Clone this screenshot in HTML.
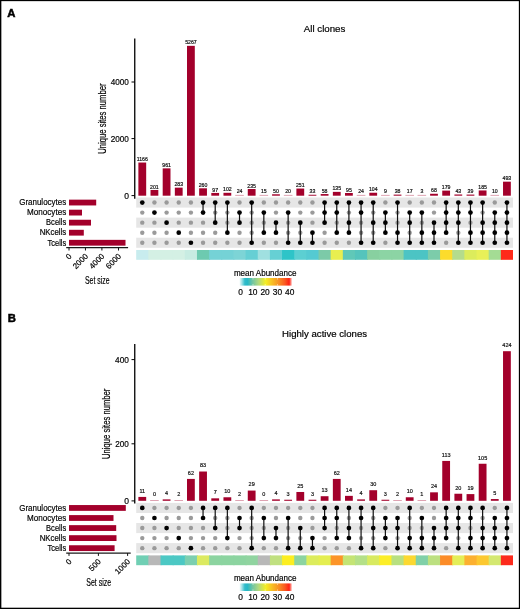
<!DOCTYPE html><html><head><meta charset="utf-8"><style>html,body{margin:0;padding:0;background:#fff;}svg{display:block;will-change:transform;}text{stroke:#000;stroke-width:0.18px;}</style></head><body>
<svg width="520" height="609" viewBox="0 0 520 609" font-family='"Liberation Sans", sans-serif'>
<defs><linearGradient id="grad" x1="0" x2="1" y1="0" y2="0"><stop offset="0" stop-color="#eefafa"/><stop offset="0.04" stop-color="#a8e4e8"/><stop offset="0.10" stop-color="#30bcca"/><stop offset="0.15" stop-color="#26b8c6"/><stop offset="0.24" stop-color="#6cc4a4"/><stop offset="0.36" stop-color="#b0d880"/><stop offset="0.5" stop-color="#f4ee24"/><stop offset="0.62" stop-color="#f8c024"/><stop offset="0.75" stop-color="#f89024"/><stop offset="0.87" stop-color="#fa5820"/><stop offset="0.95" stop-color="#ff2014"/><stop offset="1" stop-color="#ffc0b8"/></linearGradient></defs>
<rect x="0" y="0" width="520" height="609" fill="#fff"/>
<text x="7.20" y="16.60" font-size="11.3" text-anchor="start" fill="#000" font-weight="bold" style="stroke-width:0.5px">A</text>
<text x="324.60" y="31.90" font-size="9" text-anchor="middle" fill="#000" textLength="41.60" lengthAdjust="spacingAndGlyphs" >All clones</text>
<line x1="134.75" y1="38.40" x2="134.75" y2="198.80" stroke="#000" stroke-width="1.3"/>
<line x1="131.5" y1="195.60" x2="134.75" y2="195.60" stroke="#000" stroke-width="1.0"/>
<text x="128.90" y="198.55" font-size="8.5" text-anchor="end" fill="#000" >0</text>
<line x1="131.5" y1="138.60" x2="134.75" y2="138.60" stroke="#000" stroke-width="1.0"/>
<text x="128.90" y="141.55" font-size="8.5" text-anchor="end" fill="#000" textLength="18.20" lengthAdjust="spacingAndGlyphs" >2000</text>
<line x1="131.5" y1="82.00" x2="134.75" y2="82.00" stroke="#000" stroke-width="1.0"/>
<text x="128.90" y="84.95" font-size="8.5" text-anchor="end" fill="#000" textLength="18.20" lengthAdjust="spacingAndGlyphs" >4000</text>
<text x="0" y="0" font-size="10.3" text-anchor="middle" fill="#000" textLength="70.4" lengthAdjust="spacingAndGlyphs" transform="translate(105.80,118.60) rotate(-90)">Unique sites number</text>
<rect x="138.38" y="162.53" width="7.8" height="33.17" fill="#a3002b"/>
<text x="142.28" y="161.09" font-size="5.2" text-anchor="middle" fill="#222" >1166</text>
<rect x="150.53" y="189.98" width="7.8" height="5.72" fill="#a3002b"/>
<text x="154.43" y="188.54" font-size="5.2" text-anchor="middle" fill="#222" >201</text>
<rect x="162.69" y="168.36" width="7.8" height="27.34" fill="#a3002b"/>
<text x="166.59" y="166.92" font-size="5.2" text-anchor="middle" fill="#222" >961</text>
<rect x="174.84" y="187.65" width="7.8" height="8.05" fill="#a3002b"/>
<text x="178.74" y="186.21" font-size="5.2" text-anchor="middle" fill="#222" >283</text>
<rect x="187.00" y="45.85" width="7.8" height="149.85" fill="#a3002b"/>
<text x="190.90" y="44.42" font-size="5.2" text-anchor="middle" fill="#222" >5267</text>
<rect x="199.15" y="188.30" width="7.8" height="7.40" fill="#a3002b"/>
<text x="203.05" y="186.86" font-size="5.2" text-anchor="middle" fill="#222" >260</text>
<rect x="211.31" y="192.94" width="7.8" height="2.76" fill="#a3002b"/>
<text x="215.21" y="191.50" font-size="5.2" text-anchor="middle" fill="#222" >97</text>
<rect x="223.46" y="192.80" width="7.8" height="2.90" fill="#a3002b"/>
<text x="227.36" y="191.36" font-size="5.2" text-anchor="middle" fill="#222" >102</text>
<rect x="235.22" y="194.90" width="8.6" height="0.8" fill="#a3002b" opacity="0.45"/>
<text x="239.52" y="193.46" font-size="5.2" text-anchor="middle" fill="#222" >24</text>
<rect x="247.77" y="189.01" width="7.8" height="6.69" fill="#a3002b"/>
<text x="251.67" y="187.58" font-size="5.2" text-anchor="middle" fill="#222" >235</text>
<rect x="259.53" y="194.90" width="8.6" height="0.8" fill="#a3002b" opacity="0.45"/>
<text x="263.83" y="193.46" font-size="5.2" text-anchor="middle" fill="#222" >15</text>
<rect x="272.08" y="194.28" width="7.8" height="1.42" fill="#a3002b"/>
<text x="275.98" y="192.84" font-size="5.2" text-anchor="middle" fill="#222" >50</text>
<rect x="283.84" y="194.90" width="8.6" height="0.8" fill="#a3002b" opacity="0.45"/>
<text x="288.14" y="193.46" font-size="5.2" text-anchor="middle" fill="#222" >20</text>
<rect x="296.39" y="188.56" width="7.8" height="7.14" fill="#a3002b"/>
<text x="300.29" y="187.12" font-size="5.2" text-anchor="middle" fill="#222" >251</text>
<rect x="308.55" y="194.76" width="7.8" height="0.94" fill="#a3002b"/>
<text x="312.45" y="193.32" font-size="5.2" text-anchor="middle" fill="#222" >33</text>
<rect x="320.70" y="194.05" width="7.8" height="1.65" fill="#a3002b"/>
<text x="324.60" y="192.61" font-size="5.2" text-anchor="middle" fill="#222" >58</text>
<rect x="332.86" y="191.86" width="7.8" height="3.84" fill="#a3002b"/>
<text x="336.76" y="190.42" font-size="5.2" text-anchor="middle" fill="#222" >135</text>
<rect x="345.01" y="193.00" width="7.8" height="2.70" fill="#a3002b"/>
<text x="348.91" y="191.56" font-size="5.2" text-anchor="middle" fill="#222" >95</text>
<rect x="356.77" y="194.90" width="8.6" height="0.8" fill="#a3002b" opacity="0.45"/>
<text x="361.07" y="193.46" font-size="5.2" text-anchor="middle" fill="#222" >24</text>
<rect x="369.32" y="192.74" width="7.8" height="2.96" fill="#a3002b"/>
<text x="373.22" y="191.30" font-size="5.2" text-anchor="middle" fill="#222" >104</text>
<rect x="381.08" y="194.90" width="8.6" height="0.8" fill="#a3002b" opacity="0.45"/>
<text x="385.38" y="193.46" font-size="5.2" text-anchor="middle" fill="#222" >9</text>
<rect x="393.63" y="194.62" width="7.8" height="1.08" fill="#a3002b"/>
<text x="397.53" y="193.18" font-size="5.2" text-anchor="middle" fill="#222" >38</text>
<rect x="405.39" y="194.90" width="8.6" height="0.8" fill="#a3002b" opacity="0.45"/>
<text x="409.69" y="193.46" font-size="5.2" text-anchor="middle" fill="#222" >17</text>
<rect x="417.54" y="194.90" width="8.6" height="0.8" fill="#a3002b" opacity="0.45"/>
<text x="421.84" y="193.46" font-size="5.2" text-anchor="middle" fill="#222" >3</text>
<rect x="430.10" y="193.77" width="7.8" height="1.93" fill="#a3002b"/>
<text x="434.00" y="192.33" font-size="5.2" text-anchor="middle" fill="#222" >68</text>
<rect x="442.25" y="190.61" width="7.8" height="5.09" fill="#a3002b"/>
<text x="446.15" y="189.17" font-size="5.2" text-anchor="middle" fill="#222" >179</text>
<rect x="454.41" y="194.48" width="7.8" height="1.22" fill="#a3002b"/>
<text x="458.31" y="193.04" font-size="5.2" text-anchor="middle" fill="#222" >43</text>
<rect x="466.56" y="194.59" width="7.8" height="1.11" fill="#a3002b"/>
<text x="470.46" y="193.15" font-size="5.2" text-anchor="middle" fill="#222" >39</text>
<rect x="478.72" y="190.44" width="7.8" height="5.26" fill="#a3002b"/>
<text x="482.62" y="189.00" font-size="5.2" text-anchor="middle" fill="#222" >185</text>
<rect x="490.47" y="194.90" width="8.6" height="0.8" fill="#a3002b" opacity="0.45"/>
<text x="494.77" y="193.46" font-size="5.2" text-anchor="middle" fill="#222" >10</text>
<rect x="503.03" y="181.67" width="7.8" height="14.03" fill="#a3002b"/>
<text x="506.93" y="180.24" font-size="5.2" text-anchor="middle" fill="#222" >493</text>
<rect x="136.20" y="197.50" width="376.81" height="10.1" fill="#e6e6e6"/>
<rect x="136.20" y="217.60" width="376.81" height="10.1" fill="#e6e6e6"/>
<rect x="136.20" y="237.70" width="376.81" height="10.1" fill="#e6e6e6"/>
<circle cx="142.28" cy="212.60" r="2.2" fill="#9a9a9a"/>
<circle cx="142.28" cy="222.65" r="2.2" fill="#9a9a9a"/>
<circle cx="142.28" cy="232.70" r="2.2" fill="#9a9a9a"/>
<circle cx="142.28" cy="242.75" r="2.2" fill="#9a9a9a"/>
<circle cx="142.28" cy="202.55" r="2.35" fill="#000"/>
<circle cx="154.43" cy="202.55" r="2.2" fill="#9a9a9a"/>
<circle cx="154.43" cy="222.65" r="2.2" fill="#9a9a9a"/>
<circle cx="154.43" cy="232.70" r="2.2" fill="#9a9a9a"/>
<circle cx="154.43" cy="242.75" r="2.2" fill="#9a9a9a"/>
<circle cx="154.43" cy="212.60" r="2.35" fill="#000"/>
<circle cx="166.59" cy="202.55" r="2.2" fill="#9a9a9a"/>
<circle cx="166.59" cy="212.60" r="2.2" fill="#9a9a9a"/>
<circle cx="166.59" cy="232.70" r="2.2" fill="#9a9a9a"/>
<circle cx="166.59" cy="242.75" r="2.2" fill="#9a9a9a"/>
<circle cx="166.59" cy="222.65" r="2.35" fill="#000"/>
<circle cx="178.74" cy="202.55" r="2.2" fill="#9a9a9a"/>
<circle cx="178.74" cy="212.60" r="2.2" fill="#9a9a9a"/>
<circle cx="178.74" cy="222.65" r="2.2" fill="#9a9a9a"/>
<circle cx="178.74" cy="242.75" r="2.2" fill="#9a9a9a"/>
<circle cx="178.74" cy="232.70" r="2.35" fill="#000"/>
<circle cx="190.90" cy="202.55" r="2.2" fill="#9a9a9a"/>
<circle cx="190.90" cy="212.60" r="2.2" fill="#9a9a9a"/>
<circle cx="190.90" cy="222.65" r="2.2" fill="#9a9a9a"/>
<circle cx="190.90" cy="232.70" r="2.2" fill="#9a9a9a"/>
<circle cx="190.90" cy="242.75" r="2.35" fill="#000"/>
<circle cx="203.05" cy="222.65" r="2.2" fill="#9a9a9a"/>
<circle cx="203.05" cy="232.70" r="2.2" fill="#9a9a9a"/>
<circle cx="203.05" cy="242.75" r="2.2" fill="#9a9a9a"/>
<line x1="203.05" y1="202.55" x2="203.05" y2="212.60" stroke="#111" stroke-width="1.2"/>
<circle cx="203.05" cy="202.55" r="2.35" fill="#000"/>
<circle cx="203.05" cy="212.60" r="2.35" fill="#000"/>
<circle cx="215.21" cy="212.60" r="2.2" fill="#9a9a9a"/>
<circle cx="215.21" cy="232.70" r="2.2" fill="#9a9a9a"/>
<circle cx="215.21" cy="242.75" r="2.2" fill="#9a9a9a"/>
<line x1="215.21" y1="202.55" x2="215.21" y2="222.65" stroke="#111" stroke-width="1.2"/>
<circle cx="215.21" cy="202.55" r="2.35" fill="#000"/>
<circle cx="215.21" cy="222.65" r="2.35" fill="#000"/>
<circle cx="227.36" cy="212.60" r="2.2" fill="#9a9a9a"/>
<circle cx="227.36" cy="222.65" r="2.2" fill="#9a9a9a"/>
<circle cx="227.36" cy="242.75" r="2.2" fill="#9a9a9a"/>
<line x1="227.36" y1="202.55" x2="227.36" y2="232.70" stroke="#111" stroke-width="1.2"/>
<circle cx="227.36" cy="202.55" r="2.35" fill="#000"/>
<circle cx="227.36" cy="232.70" r="2.35" fill="#000"/>
<circle cx="239.52" cy="202.55" r="2.2" fill="#9a9a9a"/>
<circle cx="239.52" cy="232.70" r="2.2" fill="#9a9a9a"/>
<circle cx="239.52" cy="242.75" r="2.2" fill="#9a9a9a"/>
<line x1="239.52" y1="212.60" x2="239.52" y2="222.65" stroke="#111" stroke-width="1.2"/>
<circle cx="239.52" cy="212.60" r="2.35" fill="#000"/>
<circle cx="239.52" cy="222.65" r="2.35" fill="#000"/>
<circle cx="251.67" cy="212.60" r="2.2" fill="#9a9a9a"/>
<circle cx="251.67" cy="222.65" r="2.2" fill="#9a9a9a"/>
<circle cx="251.67" cy="232.70" r="2.2" fill="#9a9a9a"/>
<line x1="251.67" y1="202.55" x2="251.67" y2="242.75" stroke="#111" stroke-width="1.2"/>
<circle cx="251.67" cy="202.55" r="2.35" fill="#000"/>
<circle cx="251.67" cy="242.75" r="2.35" fill="#000"/>
<circle cx="263.83" cy="202.55" r="2.2" fill="#9a9a9a"/>
<circle cx="263.83" cy="222.65" r="2.2" fill="#9a9a9a"/>
<circle cx="263.83" cy="242.75" r="2.2" fill="#9a9a9a"/>
<line x1="263.83" y1="212.60" x2="263.83" y2="232.70" stroke="#111" stroke-width="1.2"/>
<circle cx="263.83" cy="212.60" r="2.35" fill="#000"/>
<circle cx="263.83" cy="232.70" r="2.35" fill="#000"/>
<circle cx="275.98" cy="202.55" r="2.2" fill="#9a9a9a"/>
<circle cx="275.98" cy="212.60" r="2.2" fill="#9a9a9a"/>
<circle cx="275.98" cy="242.75" r="2.2" fill="#9a9a9a"/>
<line x1="275.98" y1="222.65" x2="275.98" y2="232.70" stroke="#111" stroke-width="1.2"/>
<circle cx="275.98" cy="222.65" r="2.35" fill="#000"/>
<circle cx="275.98" cy="232.70" r="2.35" fill="#000"/>
<circle cx="288.14" cy="202.55" r="2.2" fill="#9a9a9a"/>
<circle cx="288.14" cy="222.65" r="2.2" fill="#9a9a9a"/>
<circle cx="288.14" cy="232.70" r="2.2" fill="#9a9a9a"/>
<line x1="288.14" y1="212.60" x2="288.14" y2="242.75" stroke="#111" stroke-width="1.2"/>
<circle cx="288.14" cy="212.60" r="2.35" fill="#000"/>
<circle cx="288.14" cy="242.75" r="2.35" fill="#000"/>
<circle cx="300.29" cy="202.55" r="2.2" fill="#9a9a9a"/>
<circle cx="300.29" cy="212.60" r="2.2" fill="#9a9a9a"/>
<circle cx="300.29" cy="232.70" r="2.2" fill="#9a9a9a"/>
<line x1="300.29" y1="222.65" x2="300.29" y2="242.75" stroke="#111" stroke-width="1.2"/>
<circle cx="300.29" cy="222.65" r="2.35" fill="#000"/>
<circle cx="300.29" cy="242.75" r="2.35" fill="#000"/>
<circle cx="312.45" cy="202.55" r="2.2" fill="#9a9a9a"/>
<circle cx="312.45" cy="212.60" r="2.2" fill="#9a9a9a"/>
<circle cx="312.45" cy="222.65" r="2.2" fill="#9a9a9a"/>
<line x1="312.45" y1="232.70" x2="312.45" y2="242.75" stroke="#111" stroke-width="1.2"/>
<circle cx="312.45" cy="232.70" r="2.35" fill="#000"/>
<circle cx="312.45" cy="242.75" r="2.35" fill="#000"/>
<circle cx="324.60" cy="232.70" r="2.2" fill="#9a9a9a"/>
<circle cx="324.60" cy="242.75" r="2.2" fill="#9a9a9a"/>
<line x1="324.60" y1="202.55" x2="324.60" y2="222.65" stroke="#111" stroke-width="1.2"/>
<circle cx="324.60" cy="202.55" r="2.35" fill="#000"/>
<circle cx="324.60" cy="212.60" r="2.35" fill="#000"/>
<circle cx="324.60" cy="222.65" r="2.35" fill="#000"/>
<circle cx="336.76" cy="222.65" r="2.2" fill="#9a9a9a"/>
<circle cx="336.76" cy="242.75" r="2.2" fill="#9a9a9a"/>
<line x1="336.76" y1="202.55" x2="336.76" y2="232.70" stroke="#111" stroke-width="1.2"/>
<circle cx="336.76" cy="202.55" r="2.35" fill="#000"/>
<circle cx="336.76" cy="212.60" r="2.35" fill="#000"/>
<circle cx="336.76" cy="232.70" r="2.35" fill="#000"/>
<circle cx="348.91" cy="212.60" r="2.2" fill="#9a9a9a"/>
<circle cx="348.91" cy="242.75" r="2.2" fill="#9a9a9a"/>
<line x1="348.91" y1="202.55" x2="348.91" y2="232.70" stroke="#111" stroke-width="1.2"/>
<circle cx="348.91" cy="202.55" r="2.35" fill="#000"/>
<circle cx="348.91" cy="222.65" r="2.35" fill="#000"/>
<circle cx="348.91" cy="232.70" r="2.35" fill="#000"/>
<circle cx="361.07" cy="222.65" r="2.2" fill="#9a9a9a"/>
<circle cx="361.07" cy="232.70" r="2.2" fill="#9a9a9a"/>
<line x1="361.07" y1="202.55" x2="361.07" y2="242.75" stroke="#111" stroke-width="1.2"/>
<circle cx="361.07" cy="202.55" r="2.35" fill="#000"/>
<circle cx="361.07" cy="212.60" r="2.35" fill="#000"/>
<circle cx="361.07" cy="242.75" r="2.35" fill="#000"/>
<circle cx="373.22" cy="212.60" r="2.2" fill="#9a9a9a"/>
<circle cx="373.22" cy="232.70" r="2.2" fill="#9a9a9a"/>
<line x1="373.22" y1="202.55" x2="373.22" y2="242.75" stroke="#111" stroke-width="1.2"/>
<circle cx="373.22" cy="202.55" r="2.35" fill="#000"/>
<circle cx="373.22" cy="222.65" r="2.35" fill="#000"/>
<circle cx="373.22" cy="242.75" r="2.35" fill="#000"/>
<circle cx="385.38" cy="202.55" r="2.2" fill="#9a9a9a"/>
<circle cx="385.38" cy="242.75" r="2.2" fill="#9a9a9a"/>
<line x1="385.38" y1="212.60" x2="385.38" y2="232.70" stroke="#111" stroke-width="1.2"/>
<circle cx="385.38" cy="212.60" r="2.35" fill="#000"/>
<circle cx="385.38" cy="222.65" r="2.35" fill="#000"/>
<circle cx="385.38" cy="232.70" r="2.35" fill="#000"/>
<circle cx="397.53" cy="212.60" r="2.2" fill="#9a9a9a"/>
<circle cx="397.53" cy="222.65" r="2.2" fill="#9a9a9a"/>
<line x1="397.53" y1="202.55" x2="397.53" y2="242.75" stroke="#111" stroke-width="1.2"/>
<circle cx="397.53" cy="202.55" r="2.35" fill="#000"/>
<circle cx="397.53" cy="232.70" r="2.35" fill="#000"/>
<circle cx="397.53" cy="242.75" r="2.35" fill="#000"/>
<circle cx="409.69" cy="202.55" r="2.2" fill="#9a9a9a"/>
<circle cx="409.69" cy="232.70" r="2.2" fill="#9a9a9a"/>
<line x1="409.69" y1="212.60" x2="409.69" y2="242.75" stroke="#111" stroke-width="1.2"/>
<circle cx="409.69" cy="212.60" r="2.35" fill="#000"/>
<circle cx="409.69" cy="222.65" r="2.35" fill="#000"/>
<circle cx="409.69" cy="242.75" r="2.35" fill="#000"/>
<circle cx="421.84" cy="202.55" r="2.2" fill="#9a9a9a"/>
<circle cx="421.84" cy="222.65" r="2.2" fill="#9a9a9a"/>
<line x1="421.84" y1="212.60" x2="421.84" y2="242.75" stroke="#111" stroke-width="1.2"/>
<circle cx="421.84" cy="212.60" r="2.35" fill="#000"/>
<circle cx="421.84" cy="232.70" r="2.35" fill="#000"/>
<circle cx="421.84" cy="242.75" r="2.35" fill="#000"/>
<circle cx="434.00" cy="202.55" r="2.2" fill="#9a9a9a"/>
<circle cx="434.00" cy="212.60" r="2.2" fill="#9a9a9a"/>
<line x1="434.00" y1="222.65" x2="434.00" y2="242.75" stroke="#111" stroke-width="1.2"/>
<circle cx="434.00" cy="222.65" r="2.35" fill="#000"/>
<circle cx="434.00" cy="232.70" r="2.35" fill="#000"/>
<circle cx="434.00" cy="242.75" r="2.35" fill="#000"/>
<circle cx="446.15" cy="242.75" r="2.2" fill="#9a9a9a"/>
<line x1="446.15" y1="202.55" x2="446.15" y2="232.70" stroke="#111" stroke-width="1.2"/>
<circle cx="446.15" cy="202.55" r="2.35" fill="#000"/>
<circle cx="446.15" cy="212.60" r="2.35" fill="#000"/>
<circle cx="446.15" cy="222.65" r="2.35" fill="#000"/>
<circle cx="446.15" cy="232.70" r="2.35" fill="#000"/>
<circle cx="458.31" cy="232.70" r="2.2" fill="#9a9a9a"/>
<line x1="458.31" y1="202.55" x2="458.31" y2="242.75" stroke="#111" stroke-width="1.2"/>
<circle cx="458.31" cy="202.55" r="2.35" fill="#000"/>
<circle cx="458.31" cy="212.60" r="2.35" fill="#000"/>
<circle cx="458.31" cy="222.65" r="2.35" fill="#000"/>
<circle cx="458.31" cy="242.75" r="2.35" fill="#000"/>
<circle cx="470.46" cy="222.65" r="2.2" fill="#9a9a9a"/>
<line x1="470.46" y1="202.55" x2="470.46" y2="242.75" stroke="#111" stroke-width="1.2"/>
<circle cx="470.46" cy="202.55" r="2.35" fill="#000"/>
<circle cx="470.46" cy="212.60" r="2.35" fill="#000"/>
<circle cx="470.46" cy="232.70" r="2.35" fill="#000"/>
<circle cx="470.46" cy="242.75" r="2.35" fill="#000"/>
<circle cx="482.62" cy="212.60" r="2.2" fill="#9a9a9a"/>
<line x1="482.62" y1="202.55" x2="482.62" y2="242.75" stroke="#111" stroke-width="1.2"/>
<circle cx="482.62" cy="202.55" r="2.35" fill="#000"/>
<circle cx="482.62" cy="222.65" r="2.35" fill="#000"/>
<circle cx="482.62" cy="232.70" r="2.35" fill="#000"/>
<circle cx="482.62" cy="242.75" r="2.35" fill="#000"/>
<circle cx="494.77" cy="202.55" r="2.2" fill="#9a9a9a"/>
<line x1="494.77" y1="212.60" x2="494.77" y2="242.75" stroke="#111" stroke-width="1.2"/>
<circle cx="494.77" cy="212.60" r="2.35" fill="#000"/>
<circle cx="494.77" cy="222.65" r="2.35" fill="#000"/>
<circle cx="494.77" cy="232.70" r="2.35" fill="#000"/>
<circle cx="494.77" cy="242.75" r="2.35" fill="#000"/>
<line x1="506.93" y1="202.55" x2="506.93" y2="242.75" stroke="#111" stroke-width="1.2"/>
<circle cx="506.93" cy="202.55" r="2.35" fill="#000"/>
<circle cx="506.93" cy="212.60" r="2.35" fill="#000"/>
<circle cx="506.93" cy="222.65" r="2.35" fill="#000"/>
<circle cx="506.93" cy="232.70" r="2.35" fill="#000"/>
<circle cx="506.93" cy="242.75" r="2.35" fill="#000"/>
<rect x="136.20" y="250.00" width="13.15" height="9.8" fill="#c8ecee"/>
<rect x="148.35" y="250.00" width="13.15" height="9.8" fill="#d4f0e4"/>
<rect x="160.51" y="250.00" width="13.15" height="9.8" fill="#d4f0e4"/>
<rect x="172.66" y="250.00" width="13.15" height="9.8" fill="#d4f0e4"/>
<rect x="184.82" y="250.00" width="13.15" height="9.8" fill="#c8ece2"/>
<rect x="196.97" y="250.00" width="13.15" height="9.8" fill="#6dcab0"/>
<rect x="209.13" y="250.00" width="13.15" height="9.8" fill="#75d2d6"/>
<rect x="221.28" y="250.00" width="13.15" height="9.8" fill="#75d2d6"/>
<rect x="233.44" y="250.00" width="13.15" height="9.8" fill="#7dd4d6"/>
<rect x="245.59" y="250.00" width="13.15" height="9.8" fill="#66cfd4"/>
<rect x="257.75" y="250.00" width="13.15" height="9.8" fill="#a0e0e0"/>
<rect x="269.90" y="250.00" width="13.15" height="9.8" fill="#66d0d4"/>
<rect x="282.06" y="250.00" width="13.15" height="9.8" fill="#2ec4c8"/>
<rect x="294.21" y="250.00" width="13.15" height="9.8" fill="#5ccfd2"/>
<rect x="306.37" y="250.00" width="13.15" height="9.8" fill="#55cad2"/>
<rect x="318.52" y="250.00" width="13.15" height="9.8" fill="#7ccaa8"/>
<rect x="330.68" y="250.00" width="13.15" height="9.8" fill="#e8ee50"/>
<rect x="342.83" y="250.00" width="13.15" height="9.8" fill="#60c8b8"/>
<rect x="354.99" y="250.00" width="13.15" height="9.8" fill="#55c4bc"/>
<rect x="367.14" y="250.00" width="13.15" height="9.8" fill="#88d0a0"/>
<rect x="379.30" y="250.00" width="13.15" height="9.8" fill="#8cd4a4"/>
<rect x="391.45" y="250.00" width="13.15" height="9.8" fill="#8cd4a4"/>
<rect x="403.61" y="250.00" width="13.15" height="9.8" fill="#4cc4c4"/>
<rect x="415.76" y="250.00" width="13.15" height="9.8" fill="#4cc4c4"/>
<rect x="427.92" y="250.00" width="13.15" height="9.8" fill="#7cccaa"/>
<rect x="440.07" y="250.00" width="13.15" height="9.8" fill="#fcdc2c"/>
<rect x="452.23" y="250.00" width="13.15" height="9.8" fill="#b4dc8c"/>
<rect x="464.38" y="250.00" width="13.15" height="9.8" fill="#dcec5c"/>
<rect x="476.54" y="250.00" width="13.15" height="9.8" fill="#e8f058"/>
<rect x="488.69" y="250.00" width="13.15" height="9.8" fill="#a4dc94"/>
<rect x="500.85" y="250.00" width="12.15" height="9.8" fill="#ff2a1a"/>
<text x="265.20" y="275.80" font-size="8.4" text-anchor="middle" fill="#000" textLength="62.60" lengthAdjust="spacingAndGlyphs" >mean Abundance</text>
<rect x="239.6" y="278.00" width="52.2" height="7.6" fill="url(#grad)"/>
<line x1="253.00" y1="278.00" x2="253.00" y2="279.60" stroke="#fff" stroke-width="0.6" opacity="0.8"/>
<line x1="253.00" y1="284.00" x2="253.00" y2="285.60" stroke="#fff" stroke-width="0.6" opacity="0.8"/>
<line x1="265.20" y1="278.00" x2="265.20" y2="279.60" stroke="#fff" stroke-width="0.6" opacity="0.8"/>
<line x1="265.20" y1="284.00" x2="265.20" y2="285.60" stroke="#fff" stroke-width="0.6" opacity="0.8"/>
<line x1="277.40" y1="278.00" x2="277.40" y2="279.60" stroke="#fff" stroke-width="0.6" opacity="0.8"/>
<line x1="277.40" y1="284.00" x2="277.40" y2="285.60" stroke="#fff" stroke-width="0.6" opacity="0.8"/>
<text x="240.50" y="295.00" font-size="8.4" text-anchor="middle" fill="#000" >0</text>
<text x="252.80" y="295.00" font-size="8.4" text-anchor="middle" fill="#000" >10</text>
<text x="265.10" y="295.00" font-size="8.4" text-anchor="middle" fill="#000" >20</text>
<text x="277.40" y="295.00" font-size="8.4" text-anchor="middle" fill="#000" >30</text>
<text x="289.70" y="295.00" font-size="8.4" text-anchor="middle" fill="#000" >40</text>
<text x="66.20" y="205.30" font-size="8.6" text-anchor="end" fill="#000" textLength="47.00" lengthAdjust="spacingAndGlyphs" >Granulocytes</text>
<rect x="69.0" y="199.65" width="27.20" height="5.8" fill="#a3002b"/>
<text x="66.20" y="215.35" font-size="8.6" text-anchor="end" fill="#000" textLength="39.10" lengthAdjust="spacingAndGlyphs" >Monocytes</text>
<rect x="69.0" y="209.70" width="13.00" height="5.8" fill="#a3002b"/>
<text x="66.20" y="225.40" font-size="8.6" text-anchor="end" fill="#000" textLength="20.10" lengthAdjust="spacingAndGlyphs" >Bcells</text>
<rect x="69.0" y="219.75" width="22.00" height="5.8" fill="#a3002b"/>
<text x="66.20" y="235.45" font-size="8.6" text-anchor="end" fill="#000" textLength="26.50" lengthAdjust="spacingAndGlyphs" >NKcells</text>
<rect x="69.0" y="229.80" width="14.80" height="5.8" fill="#a3002b"/>
<text x="66.20" y="245.50" font-size="8.6" text-anchor="end" fill="#000" textLength="18.70" lengthAdjust="spacingAndGlyphs" >Tcells</text>
<rect x="69.0" y="239.85" width="56.50" height="5.8" fill="#a3002b"/>
<line x1="66.2" y1="247.70" x2="128.10" y2="247.70" stroke="#1a1a1a" stroke-width="1.2"/>
<line x1="69.00" y1="247.70" x2="69.00" y2="250.50" stroke="#111" stroke-width="1.0"/>
<text x="0" y="0" font-size="8" text-anchor="end" fill="#000" transform="translate(72.10,256.80) rotate(-45)">0</text>
<line x1="85.45" y1="247.70" x2="85.45" y2="250.50" stroke="#111" stroke-width="1.0"/>
<text x="0" y="0" font-size="8" text-anchor="end" fill="#000" transform="translate(88.55,256.80) rotate(-45)">2000</text>
<line x1="101.90" y1="247.70" x2="101.90" y2="250.50" stroke="#111" stroke-width="1.0"/>
<text x="0" y="0" font-size="8" text-anchor="end" fill="#000" transform="translate(105.00,256.80) rotate(-45)">4000</text>
<line x1="118.50" y1="247.70" x2="118.50" y2="250.50" stroke="#111" stroke-width="1.0"/>
<text x="0" y="0" font-size="8" text-anchor="end" fill="#000" transform="translate(121.60,256.80) rotate(-45)">6000</text>
<text x="97.30" y="283.60" font-size="10.4" text-anchor="middle" fill="#000" textLength="24.60" lengthAdjust="spacingAndGlyphs">Set size</text>
<text x="7.80" y="322.00" font-size="11.3" text-anchor="start" fill="#000" font-weight="bold" style="stroke-width:0.5px">B</text>
<text x="324.60" y="337.30" font-size="9" text-anchor="middle" fill="#000" textLength="85.00" lengthAdjust="spacingAndGlyphs" >Highly active clones</text>
<line x1="134.75" y1="344.00" x2="134.75" y2="503.60" stroke="#000" stroke-width="1.3"/>
<line x1="131.5" y1="500.90" x2="134.75" y2="500.90" stroke="#000" stroke-width="1.0"/>
<text x="128.90" y="503.85" font-size="8.5" text-anchor="end" fill="#000" >0</text>
<line x1="131.5" y1="443.80" x2="134.75" y2="443.80" stroke="#000" stroke-width="1.0"/>
<text x="128.90" y="446.75" font-size="8.5" text-anchor="end" fill="#000" textLength="13.60" lengthAdjust="spacingAndGlyphs" >200</text>
<line x1="131.5" y1="359.60" x2="134.75" y2="359.60" stroke="#000" stroke-width="1.0"/>
<text x="128.90" y="362.55" font-size="8.5" text-anchor="end" fill="#000" textLength="13.90" lengthAdjust="spacingAndGlyphs" >400</text>
<text x="0" y="0" font-size="10.3" text-anchor="middle" fill="#000" textLength="70.4" lengthAdjust="spacingAndGlyphs" transform="translate(110.00,423.80) rotate(-90)">Unique sites number</text>
<rect x="138.38" y="496.92" width="7.8" height="3.88" fill="#a3002b"/>
<text x="142.28" y="492.79" font-size="5.5" text-anchor="middle" fill="#222" >11</text>
<rect x="150.13" y="500.00" width="8.6" height="0.8" fill="#a3002b" opacity="0.45"/>
<text x="154.43" y="495.87" font-size="5.5" text-anchor="middle" fill="#222" >0</text>
<rect x="162.69" y="499.39" width="7.8" height="1.41" fill="#a3002b"/>
<text x="166.59" y="495.26" font-size="5.5" text-anchor="middle" fill="#222" >4</text>
<rect x="174.44" y="500.00" width="8.6" height="0.8" fill="#a3002b" opacity="0.45"/>
<text x="178.74" y="495.87" font-size="5.5" text-anchor="middle" fill="#222" >2</text>
<rect x="187.00" y="478.92" width="7.8" height="21.88" fill="#a3002b"/>
<text x="190.90" y="474.79" font-size="5.5" text-anchor="middle" fill="#222" >62</text>
<rect x="199.15" y="471.52" width="7.8" height="29.28" fill="#a3002b"/>
<text x="203.05" y="467.38" font-size="5.5" text-anchor="middle" fill="#222" >83</text>
<rect x="211.31" y="498.33" width="7.8" height="2.47" fill="#a3002b"/>
<text x="215.21" y="494.20" font-size="5.5" text-anchor="middle" fill="#222" >7</text>
<rect x="223.46" y="497.27" width="7.8" height="3.53" fill="#a3002b"/>
<text x="227.36" y="493.14" font-size="5.5" text-anchor="middle" fill="#222" >10</text>
<rect x="235.22" y="500.00" width="8.6" height="0.8" fill="#a3002b" opacity="0.45"/>
<text x="239.52" y="495.87" font-size="5.5" text-anchor="middle" fill="#222" >2</text>
<rect x="247.77" y="490.57" width="7.8" height="10.23" fill="#a3002b"/>
<text x="251.67" y="486.44" font-size="5.5" text-anchor="middle" fill="#222" >29</text>
<rect x="259.53" y="500.00" width="8.6" height="0.8" fill="#a3002b" opacity="0.45"/>
<text x="263.83" y="495.87" font-size="5.5" text-anchor="middle" fill="#222" >0</text>
<rect x="272.08" y="499.39" width="7.8" height="1.41" fill="#a3002b"/>
<text x="275.98" y="495.26" font-size="5.5" text-anchor="middle" fill="#222" >4</text>
<rect x="284.24" y="499.74" width="7.8" height="1.06" fill="#a3002b"/>
<text x="288.14" y="495.61" font-size="5.5" text-anchor="middle" fill="#222" >3</text>
<rect x="296.39" y="491.98" width="7.8" height="8.82" fill="#a3002b"/>
<text x="300.29" y="487.85" font-size="5.5" text-anchor="middle" fill="#222" >25</text>
<rect x="308.55" y="499.74" width="7.8" height="1.06" fill="#a3002b"/>
<text x="312.45" y="495.61" font-size="5.5" text-anchor="middle" fill="#222" >3</text>
<rect x="320.70" y="496.21" width="7.8" height="4.59" fill="#a3002b"/>
<text x="324.60" y="492.08" font-size="5.5" text-anchor="middle" fill="#222" >13</text>
<rect x="332.86" y="478.92" width="7.8" height="21.88" fill="#a3002b"/>
<text x="336.76" y="474.79" font-size="5.5" text-anchor="middle" fill="#222" >62</text>
<rect x="345.01" y="495.86" width="7.8" height="4.94" fill="#a3002b"/>
<text x="348.91" y="491.73" font-size="5.5" text-anchor="middle" fill="#222" >14</text>
<rect x="357.17" y="499.39" width="7.8" height="1.41" fill="#a3002b"/>
<text x="361.07" y="495.26" font-size="5.5" text-anchor="middle" fill="#222" >4</text>
<rect x="369.32" y="490.22" width="7.8" height="10.58" fill="#a3002b"/>
<text x="373.22" y="486.08" font-size="5.5" text-anchor="middle" fill="#222" >30</text>
<rect x="381.48" y="499.74" width="7.8" height="1.06" fill="#a3002b"/>
<text x="385.38" y="495.61" font-size="5.5" text-anchor="middle" fill="#222" >3</text>
<rect x="393.23" y="500.00" width="8.6" height="0.8" fill="#a3002b" opacity="0.45"/>
<text x="397.53" y="495.87" font-size="5.5" text-anchor="middle" fill="#222" >2</text>
<rect x="405.79" y="497.27" width="7.8" height="3.53" fill="#a3002b"/>
<text x="409.69" y="493.14" font-size="5.5" text-anchor="middle" fill="#222" >10</text>
<rect x="417.54" y="500.00" width="8.6" height="0.8" fill="#a3002b" opacity="0.45"/>
<text x="421.84" y="495.87" font-size="5.5" text-anchor="middle" fill="#222" >1</text>
<rect x="430.10" y="492.33" width="7.8" height="8.47" fill="#a3002b"/>
<text x="434.00" y="488.20" font-size="5.5" text-anchor="middle" fill="#222" >24</text>
<rect x="442.25" y="460.93" width="7.8" height="39.87" fill="#a3002b"/>
<text x="446.15" y="456.80" font-size="5.5" text-anchor="middle" fill="#222" >113</text>
<rect x="454.41" y="493.74" width="7.8" height="7.06" fill="#a3002b"/>
<text x="458.31" y="489.61" font-size="5.5" text-anchor="middle" fill="#222" >20</text>
<rect x="466.56" y="494.10" width="7.8" height="6.70" fill="#a3002b"/>
<text x="470.46" y="489.97" font-size="5.5" text-anchor="middle" fill="#222" >19</text>
<rect x="478.72" y="463.75" width="7.8" height="37.05" fill="#a3002b"/>
<text x="482.62" y="459.62" font-size="5.5" text-anchor="middle" fill="#222" >105</text>
<rect x="490.87" y="499.04" width="7.8" height="1.76" fill="#a3002b"/>
<text x="494.77" y="494.90" font-size="5.5" text-anchor="middle" fill="#222" >5</text>
<rect x="503.03" y="351.20" width="7.8" height="149.60" fill="#a3002b"/>
<text x="506.93" y="347.07" font-size="5.5" text-anchor="middle" fill="#222" >424</text>
<rect x="136.20" y="502.90" width="376.81" height="10.1" fill="#e6e6e6"/>
<rect x="136.20" y="523.00" width="376.81" height="10.1" fill="#e6e6e6"/>
<rect x="136.20" y="543.10" width="376.81" height="10.1" fill="#e6e6e6"/>
<circle cx="142.28" cy="518.00" r="2.2" fill="#9a9a9a"/>
<circle cx="142.28" cy="528.05" r="2.2" fill="#9a9a9a"/>
<circle cx="142.28" cy="538.10" r="2.2" fill="#9a9a9a"/>
<circle cx="142.28" cy="548.15" r="2.2" fill="#9a9a9a"/>
<circle cx="142.28" cy="507.95" r="2.35" fill="#000"/>
<circle cx="154.43" cy="507.95" r="2.2" fill="#9a9a9a"/>
<circle cx="154.43" cy="528.05" r="2.2" fill="#9a9a9a"/>
<circle cx="154.43" cy="538.10" r="2.2" fill="#9a9a9a"/>
<circle cx="154.43" cy="548.15" r="2.2" fill="#9a9a9a"/>
<circle cx="154.43" cy="518.00" r="2.35" fill="#000"/>
<circle cx="166.59" cy="507.95" r="2.2" fill="#9a9a9a"/>
<circle cx="166.59" cy="518.00" r="2.2" fill="#9a9a9a"/>
<circle cx="166.59" cy="538.10" r="2.2" fill="#9a9a9a"/>
<circle cx="166.59" cy="548.15" r="2.2" fill="#9a9a9a"/>
<circle cx="166.59" cy="528.05" r="2.35" fill="#000"/>
<circle cx="178.74" cy="507.95" r="2.2" fill="#9a9a9a"/>
<circle cx="178.74" cy="518.00" r="2.2" fill="#9a9a9a"/>
<circle cx="178.74" cy="528.05" r="2.2" fill="#9a9a9a"/>
<circle cx="178.74" cy="548.15" r="2.2" fill="#9a9a9a"/>
<circle cx="178.74" cy="538.10" r="2.35" fill="#000"/>
<circle cx="190.90" cy="507.95" r="2.2" fill="#9a9a9a"/>
<circle cx="190.90" cy="518.00" r="2.2" fill="#9a9a9a"/>
<circle cx="190.90" cy="528.05" r="2.2" fill="#9a9a9a"/>
<circle cx="190.90" cy="538.10" r="2.2" fill="#9a9a9a"/>
<circle cx="190.90" cy="548.15" r="2.35" fill="#000"/>
<circle cx="203.05" cy="528.05" r="2.2" fill="#9a9a9a"/>
<circle cx="203.05" cy="538.10" r="2.2" fill="#9a9a9a"/>
<circle cx="203.05" cy="548.15" r="2.2" fill="#9a9a9a"/>
<line x1="203.05" y1="507.95" x2="203.05" y2="518.00" stroke="#111" stroke-width="1.2"/>
<circle cx="203.05" cy="507.95" r="2.35" fill="#000"/>
<circle cx="203.05" cy="518.00" r="2.35" fill="#000"/>
<circle cx="215.21" cy="518.00" r="2.2" fill="#9a9a9a"/>
<circle cx="215.21" cy="538.10" r="2.2" fill="#9a9a9a"/>
<circle cx="215.21" cy="548.15" r="2.2" fill="#9a9a9a"/>
<line x1="215.21" y1="507.95" x2="215.21" y2="528.05" stroke="#111" stroke-width="1.2"/>
<circle cx="215.21" cy="507.95" r="2.35" fill="#000"/>
<circle cx="215.21" cy="528.05" r="2.35" fill="#000"/>
<circle cx="227.36" cy="518.00" r="2.2" fill="#9a9a9a"/>
<circle cx="227.36" cy="528.05" r="2.2" fill="#9a9a9a"/>
<circle cx="227.36" cy="548.15" r="2.2" fill="#9a9a9a"/>
<line x1="227.36" y1="507.95" x2="227.36" y2="538.10" stroke="#111" stroke-width="1.2"/>
<circle cx="227.36" cy="507.95" r="2.35" fill="#000"/>
<circle cx="227.36" cy="538.10" r="2.35" fill="#000"/>
<circle cx="239.52" cy="507.95" r="2.2" fill="#9a9a9a"/>
<circle cx="239.52" cy="538.10" r="2.2" fill="#9a9a9a"/>
<circle cx="239.52" cy="548.15" r="2.2" fill="#9a9a9a"/>
<line x1="239.52" y1="518.00" x2="239.52" y2="528.05" stroke="#111" stroke-width="1.2"/>
<circle cx="239.52" cy="518.00" r="2.35" fill="#000"/>
<circle cx="239.52" cy="528.05" r="2.35" fill="#000"/>
<circle cx="251.67" cy="518.00" r="2.2" fill="#9a9a9a"/>
<circle cx="251.67" cy="528.05" r="2.2" fill="#9a9a9a"/>
<circle cx="251.67" cy="538.10" r="2.2" fill="#9a9a9a"/>
<line x1="251.67" y1="507.95" x2="251.67" y2="548.15" stroke="#111" stroke-width="1.2"/>
<circle cx="251.67" cy="507.95" r="2.35" fill="#000"/>
<circle cx="251.67" cy="548.15" r="2.35" fill="#000"/>
<circle cx="263.83" cy="507.95" r="2.2" fill="#9a9a9a"/>
<circle cx="263.83" cy="528.05" r="2.2" fill="#9a9a9a"/>
<circle cx="263.83" cy="548.15" r="2.2" fill="#9a9a9a"/>
<line x1="263.83" y1="518.00" x2="263.83" y2="538.10" stroke="#111" stroke-width="1.2"/>
<circle cx="263.83" cy="518.00" r="2.35" fill="#000"/>
<circle cx="263.83" cy="538.10" r="2.35" fill="#000"/>
<circle cx="275.98" cy="507.95" r="2.2" fill="#9a9a9a"/>
<circle cx="275.98" cy="518.00" r="2.2" fill="#9a9a9a"/>
<circle cx="275.98" cy="548.15" r="2.2" fill="#9a9a9a"/>
<line x1="275.98" y1="528.05" x2="275.98" y2="538.10" stroke="#111" stroke-width="1.2"/>
<circle cx="275.98" cy="528.05" r="2.35" fill="#000"/>
<circle cx="275.98" cy="538.10" r="2.35" fill="#000"/>
<circle cx="288.14" cy="507.95" r="2.2" fill="#9a9a9a"/>
<circle cx="288.14" cy="528.05" r="2.2" fill="#9a9a9a"/>
<circle cx="288.14" cy="538.10" r="2.2" fill="#9a9a9a"/>
<line x1="288.14" y1="518.00" x2="288.14" y2="548.15" stroke="#111" stroke-width="1.2"/>
<circle cx="288.14" cy="518.00" r="2.35" fill="#000"/>
<circle cx="288.14" cy="548.15" r="2.35" fill="#000"/>
<circle cx="300.29" cy="507.95" r="2.2" fill="#9a9a9a"/>
<circle cx="300.29" cy="518.00" r="2.2" fill="#9a9a9a"/>
<circle cx="300.29" cy="538.10" r="2.2" fill="#9a9a9a"/>
<line x1="300.29" y1="528.05" x2="300.29" y2="548.15" stroke="#111" stroke-width="1.2"/>
<circle cx="300.29" cy="528.05" r="2.35" fill="#000"/>
<circle cx="300.29" cy="548.15" r="2.35" fill="#000"/>
<circle cx="312.45" cy="507.95" r="2.2" fill="#9a9a9a"/>
<circle cx="312.45" cy="518.00" r="2.2" fill="#9a9a9a"/>
<circle cx="312.45" cy="528.05" r="2.2" fill="#9a9a9a"/>
<line x1="312.45" y1="538.10" x2="312.45" y2="548.15" stroke="#111" stroke-width="1.2"/>
<circle cx="312.45" cy="538.10" r="2.35" fill="#000"/>
<circle cx="312.45" cy="548.15" r="2.35" fill="#000"/>
<circle cx="324.60" cy="538.10" r="2.2" fill="#9a9a9a"/>
<circle cx="324.60" cy="548.15" r="2.2" fill="#9a9a9a"/>
<line x1="324.60" y1="507.95" x2="324.60" y2="528.05" stroke="#111" stroke-width="1.2"/>
<circle cx="324.60" cy="507.95" r="2.35" fill="#000"/>
<circle cx="324.60" cy="518.00" r="2.35" fill="#000"/>
<circle cx="324.60" cy="528.05" r="2.35" fill="#000"/>
<circle cx="336.76" cy="528.05" r="2.2" fill="#9a9a9a"/>
<circle cx="336.76" cy="548.15" r="2.2" fill="#9a9a9a"/>
<line x1="336.76" y1="507.95" x2="336.76" y2="538.10" stroke="#111" stroke-width="1.2"/>
<circle cx="336.76" cy="507.95" r="2.35" fill="#000"/>
<circle cx="336.76" cy="518.00" r="2.35" fill="#000"/>
<circle cx="336.76" cy="538.10" r="2.35" fill="#000"/>
<circle cx="348.91" cy="518.00" r="2.2" fill="#9a9a9a"/>
<circle cx="348.91" cy="548.15" r="2.2" fill="#9a9a9a"/>
<line x1="348.91" y1="507.95" x2="348.91" y2="538.10" stroke="#111" stroke-width="1.2"/>
<circle cx="348.91" cy="507.95" r="2.35" fill="#000"/>
<circle cx="348.91" cy="528.05" r="2.35" fill="#000"/>
<circle cx="348.91" cy="538.10" r="2.35" fill="#000"/>
<circle cx="361.07" cy="528.05" r="2.2" fill="#9a9a9a"/>
<circle cx="361.07" cy="538.10" r="2.2" fill="#9a9a9a"/>
<line x1="361.07" y1="507.95" x2="361.07" y2="548.15" stroke="#111" stroke-width="1.2"/>
<circle cx="361.07" cy="507.95" r="2.35" fill="#000"/>
<circle cx="361.07" cy="518.00" r="2.35" fill="#000"/>
<circle cx="361.07" cy="548.15" r="2.35" fill="#000"/>
<circle cx="373.22" cy="518.00" r="2.2" fill="#9a9a9a"/>
<circle cx="373.22" cy="538.10" r="2.2" fill="#9a9a9a"/>
<line x1="373.22" y1="507.95" x2="373.22" y2="548.15" stroke="#111" stroke-width="1.2"/>
<circle cx="373.22" cy="507.95" r="2.35" fill="#000"/>
<circle cx="373.22" cy="528.05" r="2.35" fill="#000"/>
<circle cx="373.22" cy="548.15" r="2.35" fill="#000"/>
<circle cx="385.38" cy="507.95" r="2.2" fill="#9a9a9a"/>
<circle cx="385.38" cy="548.15" r="2.2" fill="#9a9a9a"/>
<line x1="385.38" y1="518.00" x2="385.38" y2="538.10" stroke="#111" stroke-width="1.2"/>
<circle cx="385.38" cy="518.00" r="2.35" fill="#000"/>
<circle cx="385.38" cy="528.05" r="2.35" fill="#000"/>
<circle cx="385.38" cy="538.10" r="2.35" fill="#000"/>
<circle cx="397.53" cy="507.95" r="2.2" fill="#9a9a9a"/>
<circle cx="397.53" cy="538.10" r="2.2" fill="#9a9a9a"/>
<line x1="397.53" y1="518.00" x2="397.53" y2="548.15" stroke="#111" stroke-width="1.2"/>
<circle cx="397.53" cy="518.00" r="2.35" fill="#000"/>
<circle cx="397.53" cy="528.05" r="2.35" fill="#000"/>
<circle cx="397.53" cy="548.15" r="2.35" fill="#000"/>
<circle cx="409.69" cy="518.00" r="2.2" fill="#9a9a9a"/>
<circle cx="409.69" cy="528.05" r="2.2" fill="#9a9a9a"/>
<line x1="409.69" y1="507.95" x2="409.69" y2="548.15" stroke="#111" stroke-width="1.2"/>
<circle cx="409.69" cy="507.95" r="2.35" fill="#000"/>
<circle cx="409.69" cy="538.10" r="2.35" fill="#000"/>
<circle cx="409.69" cy="548.15" r="2.35" fill="#000"/>
<circle cx="421.84" cy="507.95" r="2.2" fill="#9a9a9a"/>
<circle cx="421.84" cy="528.05" r="2.2" fill="#9a9a9a"/>
<line x1="421.84" y1="518.00" x2="421.84" y2="548.15" stroke="#111" stroke-width="1.2"/>
<circle cx="421.84" cy="518.00" r="2.35" fill="#000"/>
<circle cx="421.84" cy="538.10" r="2.35" fill="#000"/>
<circle cx="421.84" cy="548.15" r="2.35" fill="#000"/>
<circle cx="434.00" cy="507.95" r="2.2" fill="#9a9a9a"/>
<circle cx="434.00" cy="518.00" r="2.2" fill="#9a9a9a"/>
<line x1="434.00" y1="528.05" x2="434.00" y2="548.15" stroke="#111" stroke-width="1.2"/>
<circle cx="434.00" cy="528.05" r="2.35" fill="#000"/>
<circle cx="434.00" cy="538.10" r="2.35" fill="#000"/>
<circle cx="434.00" cy="548.15" r="2.35" fill="#000"/>
<circle cx="446.15" cy="548.15" r="2.2" fill="#9a9a9a"/>
<line x1="446.15" y1="507.95" x2="446.15" y2="538.10" stroke="#111" stroke-width="1.2"/>
<circle cx="446.15" cy="507.95" r="2.35" fill="#000"/>
<circle cx="446.15" cy="518.00" r="2.35" fill="#000"/>
<circle cx="446.15" cy="528.05" r="2.35" fill="#000"/>
<circle cx="446.15" cy="538.10" r="2.35" fill="#000"/>
<circle cx="458.31" cy="538.10" r="2.2" fill="#9a9a9a"/>
<line x1="458.31" y1="507.95" x2="458.31" y2="548.15" stroke="#111" stroke-width="1.2"/>
<circle cx="458.31" cy="507.95" r="2.35" fill="#000"/>
<circle cx="458.31" cy="518.00" r="2.35" fill="#000"/>
<circle cx="458.31" cy="528.05" r="2.35" fill="#000"/>
<circle cx="458.31" cy="548.15" r="2.35" fill="#000"/>
<circle cx="470.46" cy="528.05" r="2.2" fill="#9a9a9a"/>
<line x1="470.46" y1="507.95" x2="470.46" y2="548.15" stroke="#111" stroke-width="1.2"/>
<circle cx="470.46" cy="507.95" r="2.35" fill="#000"/>
<circle cx="470.46" cy="518.00" r="2.35" fill="#000"/>
<circle cx="470.46" cy="538.10" r="2.35" fill="#000"/>
<circle cx="470.46" cy="548.15" r="2.35" fill="#000"/>
<circle cx="482.62" cy="518.00" r="2.2" fill="#9a9a9a"/>
<line x1="482.62" y1="507.95" x2="482.62" y2="548.15" stroke="#111" stroke-width="1.2"/>
<circle cx="482.62" cy="507.95" r="2.35" fill="#000"/>
<circle cx="482.62" cy="528.05" r="2.35" fill="#000"/>
<circle cx="482.62" cy="538.10" r="2.35" fill="#000"/>
<circle cx="482.62" cy="548.15" r="2.35" fill="#000"/>
<circle cx="494.77" cy="507.95" r="2.2" fill="#9a9a9a"/>
<line x1="494.77" y1="518.00" x2="494.77" y2="548.15" stroke="#111" stroke-width="1.2"/>
<circle cx="494.77" cy="518.00" r="2.35" fill="#000"/>
<circle cx="494.77" cy="528.05" r="2.35" fill="#000"/>
<circle cx="494.77" cy="538.10" r="2.35" fill="#000"/>
<circle cx="494.77" cy="548.15" r="2.35" fill="#000"/>
<line x1="506.93" y1="507.95" x2="506.93" y2="548.15" stroke="#111" stroke-width="1.2"/>
<circle cx="506.93" cy="507.95" r="2.35" fill="#000"/>
<circle cx="506.93" cy="518.00" r="2.35" fill="#000"/>
<circle cx="506.93" cy="528.05" r="2.35" fill="#000"/>
<circle cx="506.93" cy="538.10" r="2.35" fill="#000"/>
<circle cx="506.93" cy="548.15" r="2.35" fill="#000"/>
<rect x="136.20" y="555.40" width="13.15" height="9.8" fill="#70cfb4"/>
<rect x="148.35" y="555.40" width="13.15" height="9.8" fill="#b8b8b8"/>
<rect x="160.51" y="555.40" width="13.15" height="9.8" fill="#4cc8c4"/>
<rect x="172.66" y="555.40" width="13.15" height="9.8" fill="#4cc8c4"/>
<rect x="184.82" y="555.40" width="13.15" height="9.8" fill="#7ccfb0"/>
<rect x="196.97" y="555.40" width="13.15" height="9.8" fill="#dcea60"/>
<rect x="209.13" y="555.40" width="13.15" height="9.8" fill="#8cd4a0"/>
<rect x="221.28" y="555.40" width="13.15" height="9.8" fill="#8cd4a0"/>
<rect x="233.44" y="555.40" width="13.15" height="9.8" fill="#8cd4a0"/>
<rect x="245.59" y="555.40" width="13.15" height="9.8" fill="#90d4a0"/>
<rect x="257.75" y="555.40" width="13.15" height="9.8" fill="#b8b8b8"/>
<rect x="269.90" y="555.40" width="13.15" height="9.8" fill="#c0e080"/>
<rect x="282.06" y="555.40" width="13.15" height="9.8" fill="#fcee20"/>
<rect x="294.21" y="555.40" width="13.15" height="9.8" fill="#8cd4a0"/>
<rect x="306.37" y="555.40" width="13.15" height="9.8" fill="#dcec5c"/>
<rect x="318.52" y="555.40" width="13.15" height="9.8" fill="#e4ee50"/>
<rect x="330.68" y="555.40" width="13.15" height="9.8" fill="#fc9428"/>
<rect x="342.83" y="555.40" width="13.15" height="9.8" fill="#c4e474"/>
<rect x="354.99" y="555.40" width="13.15" height="9.8" fill="#b4e088"/>
<rect x="367.14" y="555.40" width="13.15" height="9.8" fill="#d8ea60"/>
<rect x="379.30" y="555.40" width="13.15" height="9.8" fill="#fcee28"/>
<rect x="391.45" y="555.40" width="13.15" height="9.8" fill="#b8e080"/>
<rect x="403.61" y="555.40" width="13.15" height="9.8" fill="#fcd830"/>
<rect x="415.76" y="555.40" width="13.15" height="9.8" fill="#80d0a8"/>
<rect x="427.92" y="555.40" width="13.15" height="9.8" fill="#bce080"/>
<rect x="440.07" y="555.40" width="13.15" height="9.8" fill="#fc8c28"/>
<rect x="452.23" y="555.40" width="13.15" height="9.8" fill="#e4ee58"/>
<rect x="464.38" y="555.40" width="13.15" height="9.8" fill="#fcb030"/>
<rect x="476.54" y="555.40" width="13.15" height="9.8" fill="#fcc830"/>
<rect x="488.69" y="555.40" width="13.15" height="9.8" fill="#d4e870"/>
<rect x="500.85" y="555.40" width="12.15" height="9.8" fill="#fc2a1c"/>
<text x="265.20" y="581.20" font-size="8.4" text-anchor="middle" fill="#000" textLength="62.60" lengthAdjust="spacingAndGlyphs" >mean Abundance</text>
<rect x="239.6" y="583.40" width="52.2" height="7.6" fill="url(#grad)"/>
<line x1="253.00" y1="583.40" x2="253.00" y2="585.00" stroke="#fff" stroke-width="0.6" opacity="0.8"/>
<line x1="253.00" y1="589.40" x2="253.00" y2="591.00" stroke="#fff" stroke-width="0.6" opacity="0.8"/>
<line x1="265.20" y1="583.40" x2="265.20" y2="585.00" stroke="#fff" stroke-width="0.6" opacity="0.8"/>
<line x1="265.20" y1="589.40" x2="265.20" y2="591.00" stroke="#fff" stroke-width="0.6" opacity="0.8"/>
<line x1="277.40" y1="583.40" x2="277.40" y2="585.00" stroke="#fff" stroke-width="0.6" opacity="0.8"/>
<line x1="277.40" y1="589.40" x2="277.40" y2="591.00" stroke="#fff" stroke-width="0.6" opacity="0.8"/>
<text x="240.50" y="600.40" font-size="8.4" text-anchor="middle" fill="#000" >0</text>
<text x="252.80" y="600.40" font-size="8.4" text-anchor="middle" fill="#000" >10</text>
<text x="265.10" y="600.40" font-size="8.4" text-anchor="middle" fill="#000" >20</text>
<text x="277.40" y="600.40" font-size="8.4" text-anchor="middle" fill="#000" >30</text>
<text x="289.70" y="600.40" font-size="8.4" text-anchor="middle" fill="#000" >40</text>
<text x="66.20" y="510.70" font-size="8.6" text-anchor="end" fill="#000" textLength="47.00" lengthAdjust="spacingAndGlyphs" >Granulocytes</text>
<rect x="69.0" y="505.05" width="56.80" height="5.8" fill="#a3002b"/>
<text x="66.20" y="520.75" font-size="8.6" text-anchor="end" fill="#000" textLength="39.10" lengthAdjust="spacingAndGlyphs" >Monocytes</text>
<rect x="69.0" y="515.10" width="44.50" height="5.8" fill="#a3002b"/>
<text x="66.20" y="530.80" font-size="8.6" text-anchor="end" fill="#000" textLength="20.10" lengthAdjust="spacingAndGlyphs" >Bcells</text>
<rect x="69.0" y="525.15" width="47.20" height="5.8" fill="#a3002b"/>
<text x="66.20" y="540.85" font-size="8.6" text-anchor="end" fill="#000" textLength="26.50" lengthAdjust="spacingAndGlyphs" >NKcells</text>
<rect x="69.0" y="535.20" width="47.50" height="5.8" fill="#a3002b"/>
<text x="66.20" y="550.90" font-size="8.6" text-anchor="end" fill="#000" textLength="18.70" lengthAdjust="spacingAndGlyphs" >Tcells</text>
<rect x="69.0" y="545.25" width="45.60" height="5.8" fill="#a3002b"/>
<line x1="66.2" y1="553.10" x2="130.70" y2="553.10" stroke="#1a1a1a" stroke-width="1.2"/>
<line x1="69.00" y1="553.10" x2="69.00" y2="555.90" stroke="#111" stroke-width="1.0"/>
<text x="0" y="0" font-size="8" text-anchor="end" fill="#000" transform="translate(72.10,562.20) rotate(-45)">0</text>
<line x1="98.40" y1="553.10" x2="98.40" y2="555.90" stroke="#111" stroke-width="1.0"/>
<text x="0" y="0" font-size="8" text-anchor="end" fill="#000" transform="translate(101.50,562.20) rotate(-45)">500</text>
<line x1="127.60" y1="553.10" x2="127.60" y2="555.90" stroke="#111" stroke-width="1.0"/>
<text x="0" y="0" font-size="8" text-anchor="end" fill="#000" transform="translate(130.70,562.20) rotate(-45)">1000</text>
<text x="98.70" y="586.00" font-size="10.4" text-anchor="middle" fill="#000" textLength="25.00" lengthAdjust="spacingAndGlyphs">Set size</text>
<rect x="0" y="0" width="520" height="1.15" fill="#000"/><rect x="0" y="0" width="1.35" height="609" fill="#000"/><rect x="518.85" y="0" width="1.15" height="609" fill="#000"/><rect x="0" y="607.7" width="520" height="1.3" fill="#000"/>
</svg></body></html>
